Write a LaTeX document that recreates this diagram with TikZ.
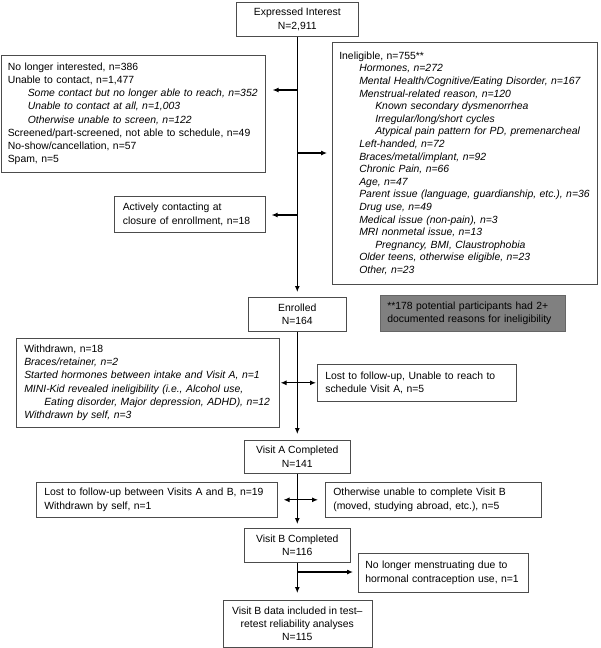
\documentclass[tikz,border=0pt]{standalone}
\usepackage{fontspec}
\setmainfont{Liberation Sans}
\usetikzlibrary{arrows.meta}
\newcommand{\indone}{\hspace*{20pt}}
\newcommand{\indtwo}{\hspace*{36pt}}

\begin{document}
\begin{tikzpicture}[>/.tip={Latex[length=6pt,width=5pt]},x=1pt,y=-1pt,
	box/.style={draw=black!70,line width=0.6pt,anchor=north west,align=left,inner xsep=8pt,inner ysep=1pt,font=\fontsize{10.4}{13.2}\selectfont},
	cbox/.style={box,align=center},
	flow/.style={->,line width=1.1pt}]
	\useasboundingbox (0,0) rectangle (600,648);
	\draw (236,2) node (ei) [cbox,minimum width=122pt,minimum height=34pt] {Expressed Interest\\N=2,911};
	\draw (1,55) node (nl) [box,inner xsep=6.5pt,minimum width=264pt,text width=251pt,minimum height=117pt] {No longer interested, n=386\\
		Unable to contact, n=1,477\\
		\indone\textit{Some contact but no longer able to reach, n=352}\\
		\indone\textit{Unable to contact at all, n=1,003}\\
		\indone\textit{Otherwise unable to screen, n=122}\\
		Screened/part-screened, not able to schedule, n=49\\
		No-show/cancellation, n=57\\
		Spam, n=5};
	\draw (332,42) node (ie) [box,inner xsep=7pt,minimum width=265pt,text width=251pt,minimum height=242pt,font=\fontsize{10.4}{12.6}\selectfont] {Ineligible, n=755**\\
		\indone\textit{Hormones, n=272}\\
		\indone\textit{Mental Health/Cognitive/Eating Disorder, n=167}\\
		\indone\textit{Menstrual-related reason, n=120}\\
		\indtwo\textit{Known secondary dysmenorrhea}\\
		\indtwo\textit{Irregular/long/short cycles}\\
		\indtwo\textit{Atypical pain pattern for PD, premenarcheal}\\
		\indone\textit{Left-handed, n=72}\\
		\indone\textit{Braces/metal/implant, n=92}\\
		\indone\textit{Chronic Pain, n=66}\\
		\indone\textit{Age, n=47}\\
		\indone\textit{Parent issue (language, guardianship, etc.), n=36}\\
		\indone\textit{Drug use, n=49}\\
		\indone\textit{Medical issue (non-pain), n=3}\\
		\indone\textit{MRI nonmetal issue, n=13}\\
		\indtwo\textit{Pregnancy, BMI, Claustrophobia}\\
		\indone\textit{Older teens, otherwise eligible, n=23}\\
		\indone\textit{Other, n=23}};
	\draw (114,196) node (ac) [box,inner xsep=8.5pt,minimum width=151pt,text width=134pt,minimum height=36pt] {Actively contacting at\\closure of enrollment, n=18};
	\draw (248,297) node (en) [cbox,minimum width=98pt,minimum height=34pt] {Enrolled\\N=164};
	\draw (380,295) node (gr) [box,fill=black!50,draw=black!60,inner xsep=7pt,minimum width=185pt,text width=171pt,minimum height=36pt] {**178 potential participants had 2+\\documented reasons for ineligibility};
	\draw (16,338) node (wd) [box,minimum width=263pt,text width=247pt,minimum height=89pt] {Withdrawn, n=18\\
		\textit{Braces/retainer, n=2}\\
		\textit{Started hormones between intake and Visit A, n=1}\\
		\textit{MINI-Kid revealed ineligibility (i.e., Alcohol use,}\\
		\indone\textit{Eating disorder, Major depression, ADHD), n=12}\\
		\textit{Withdrawn by self, n=3}};
	\draw (317,364) node (lf) [box,minimum width=199pt,text width=183pt,minimum height=37pt] {Lost to follow-up, Unable to reach to\\schedule Visit A, n=5};
	\draw (244,440) node (va) [cbox,minimum width=106pt,minimum height=33pt] {Visit A Completed\\N=141};
	\draw (36,482) node (lb) [box,minimum width=241pt,text width=225pt,minimum height=35pt] {Lost to follow-up between Visits A and B, n=19\\Withdrawn by self, n=1};
	\draw (325,482) node (ot) [box,minimum width=216pt,text width=200pt,minimum height=35pt] {Otherwise unable to complete Visit B\\(moved, studying abroad, etc.), n=5};
	\draw (244,528) node (vb) [cbox,minimum width=106pt,minimum height=34pt] {Visit B Completed\\N=116};
	\draw (358,553) node (nm) [box,inner xsep=7pt,minimum width=170pt,text width=156pt,minimum height=39pt] {No longer menstruating due to\\hormonal contraception use, n=1};
	\draw (222.5,600) node (fi) [cbox,minimum width=149pt,minimum height=47pt] {Visit B data included in test--\\retest reliability analyses\\N=115};
	\coordinate (j1) at (297,90);
	\coordinate (j2) at (297,153);
	\coordinate (j3) at (297,215);
	\coordinate (j4) at (297,572);
	\draw[flow,shorten >=5pt] (ei.south) -- (ei.south |- en.north);
	\draw[flow,shorten >=7pt] (j1) -- (j1 -| nl.east);
	\draw[flow,shorten >=5pt] (j2) -- (j2 -| ie.west);
	\draw[flow,shorten >=6pt] (j3) -- (j3 -| ac.east);
	\draw[flow,shorten >=6pt] (en.south) -- (en.south |- va.north);
	\draw[flow,<->,shorten <=1pt,shorten >=1pt] (wd.east) -- (lf.west);
	\draw[flow,shorten >=4pt] (va.south) -- (va.south |- vb.north);
	\draw[flow,<->,shorten <=6pt,shorten >=7pt] (lb.east) -- (ot.west);
	\draw[flow,shorten >=7pt] (vb.south) -- (vb.south |- fi.north);
	\draw[flow,shorten >=5pt] (j4) -- (j4 -| nm.west);
\end{tikzpicture}
\end{document}
